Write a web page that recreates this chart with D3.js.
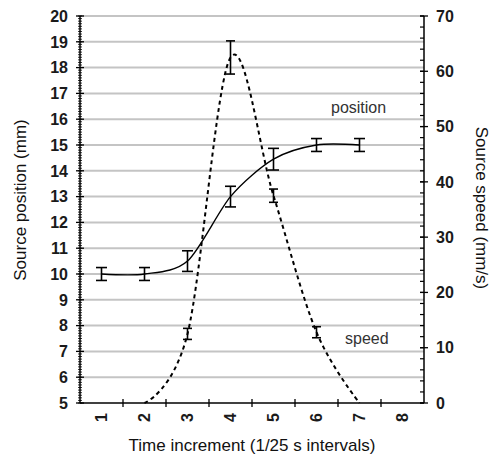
<script src="https://cdn.jsdelivr.net/npm/d3@7"></script>
<style>
  body { margin: 0; background: #fff; }
  text { font-family: "Liberation Sans", Arial, sans-serif; }
</style>
<div id="chart"></div>
<script>
// categories on the x axis
const categories = ["1", "2", "3", "4", "5", "6", "7", "8"];

// source position (mm), left axis
const posTimes = ["1", "2", "3", "4", "5", "6", "7"];
const posValues = [10.0, 10.0, 10.5, 13.0, 14.45, 15.0, 15.0];
const posErrors = [0.25, 0.25, 0.4, 0.4, 0.42, 0.25, 0.25];

// source speed (mm/s), right axis
const speedTimes = ["2", "3", "4", "5", "6", "7"];
const speedValues = [0, 12.5, 62.5, 37.5, 12.8, 0];
const speedErrors = [0, 1.0, 3.0, 1.2, 1.0, 0];

const leftTicks = d3.range(5, 21, 1);
const rightTicks = d3.range(0, 71, 10);

var W = 492, H = 461;
var margin = {top: 16, right: 68, bottom: 58, left: 80};
var x0 = margin.left, x1 = W - margin.right, y0 = H - margin.bottom, y1 = margin.top;

var svg = d3.select("#chart").append("svg")
    .attr("width", W).attr("height", H);

var xScale = d3.scaleBand().domain(categories).range([x0, x1]).padding(0);
var cx = function(c) { return xScale(c) + xScale.bandwidth() / 2; };
var yPos = d3.scaleLinear().domain([5, 20]).range([y0, y1]);
var ySpd = d3.scaleLinear().domain([0, 70]).range([y0, y1]);

// gridlines
svg.append("g").selectAll("line")
    .data(leftTicks.filter(d => d > 5))
    .join("line")
    .attr("x1", x0).attr("x2", x1)
    .attr("y1", d => yPos(d)).attr("y2", d => yPos(d))
    .attr("stroke", "#c4c4c4").attr("stroke-width", 2);

// left axis
var gl = svg.append("g");
gl.append("line").attr("x1", x0).attr("x2", x0).attr("y1", y1).attr("y2", y0)
    .attr("stroke", "#000").attr("stroke-width", 1.5);
gl.selectAll(".minor").data(d3.range(50, 201).map(d => d / 10))
    .join("line").attr("class", "minor")
    .attr("x1", x0 - 2).attr("x2", x0 + 2)
    .attr("y1", d => yPos(d)).attr("y2", d => yPos(d))
    .attr("stroke", "#000").attr("stroke-width", 0.8);
gl.selectAll(".major").data(leftTicks)
    .join("line").attr("class", "major")
    .attr("x1", x0 - 4).attr("x2", x0 + 4)
    .attr("y1", d => yPos(d)).attr("y2", d => yPos(d))
    .attr("stroke", "#000").attr("stroke-width", 1.3);
gl.selectAll("text").data(leftTicks)
    .join("text")
    .attr("x", x0 - 12).attr("y", d => yPos(d)).attr("dy", "0.36em")
    .attr("text-anchor", "end")
    .style("font-size", "16px").style("font-weight", "bold").attr("fill", "#1a1a1a")
    .text(d => d);

// right axis
var gr = svg.append("g");
gr.append("line").attr("x1", x1).attr("x2", x1).attr("y1", y1).attr("y2", y0)
    .attr("stroke", "#000").attr("stroke-width", 1.5);
gr.selectAll(".minor").data(d3.range(0, 71, 2))
    .join("line").attr("class", "minor")
    .attr("x1", x1 - 4).attr("x2", x1)
    .attr("y1", d => ySpd(d)).attr("y2", d => ySpd(d))
    .attr("stroke", "#000").attr("stroke-width", 1.2);
gr.selectAll(".major").data(rightTicks)
    .join("line").attr("class", "major")
    .attr("x1", x1 - 4).attr("x2", x1 + 4)
    .attr("y1", d => ySpd(d)).attr("y2", d => ySpd(d))
    .attr("stroke", "#000").attr("stroke-width", 1.3);
gr.selectAll("text").data(rightTicks)
    .join("text")
    .attr("x", x1 + 12).attr("y", d => ySpd(d)).attr("dy", "0.36em")
    .style("font-size", "16px").style("font-weight", "bold").attr("fill", "#1a1a1a")
    .text(d => d);

// bottom axis
var gb = svg.append("g");
gb.append("line").attr("x1", x0).attr("x2", x1).attr("y1", y0).attr("y2", y0)
    .attr("stroke", "#000").attr("stroke-width", 1.5);
gb.selectAll("line.tick").data(categories.slice(1))
    .join("line").attr("class", "tick")
    .attr("x1", d => xScale(d)).attr("x2", d => xScale(d))
    .attr("y1", y0 - 4).attr("y2", y0 + 4)
    .attr("stroke", "#000").attr("stroke-width", 1.3);
gb.selectAll("text").data(categories)
    .join("text")
    .attr("transform", d => "translate(" + cx(d) + "," + (y0 + 10) + ") rotate(-90)")
    .attr("dy", "0.36em").attr("text-anchor", "end")
    .style("font-size", "16px").style("font-weight", "bold").attr("fill", "#1a1a1a")
    .text(d => d);

// position curve
var posData = posTimes.map((t, i) => ({t: t, v: posValues[i], e: posErrors[i]}));
svg.append("path")
    .datum(posData)
    .attr("d", d3.line().x(d => cx(d.t)).y(d => yPos(d.v)).curve(d3.curveCardinal.tension(0.15)))
    .attr("fill", "none").attr("stroke", "#000").attr("stroke-width", 1.4);

// speed curve
var spdData = speedTimes.map((t, i) => ({t: t, v: speedValues[i], e: speedErrors[i]}));
svg.append("path")
    .datum(spdData)
    .attr("d", d3.line().x(d => cx(d.t)).y(d => ySpd(d.v)).curve(d3.curveCardinal.tension(0)))
    .attr("fill", "none").attr("stroke", "#000").attr("stroke-width", 2)
    .attr("stroke-dasharray", "4,3.5");

// error bars
var errorBars = function(data, yScale, cap) {
    var g = svg.append("g").selectAll("g").data(data.filter(d => d.e > 0)).join("g")
        .attr("stroke", "#000").attr("stroke-width", 1.6);
    g.append("line").attr("x1", d => cx(d.t)).attr("x2", d => cx(d.t))
        .attr("y1", d => yScale(d.v - d.e)).attr("y2", d => yScale(d.v + d.e));
    g.append("line").attr("x1", d => cx(d.t) - cap).attr("x2", d => cx(d.t) + cap)
        .attr("y1", d => yScale(d.v + d.e)).attr("y2", d => yScale(d.v + d.e));
    g.append("line").attr("x1", d => cx(d.t) - cap).attr("x2", d => cx(d.t) + cap)
        .attr("y1", d => yScale(d.v - d.e)).attr("y2", d => yScale(d.v - d.e));
};
errorBars(posData, yPos, 5.5);
errorBars(spdData, ySpd, 4.5);

// series labels
svg.append("text").attr("x", 331).attr("y", 113)
    .style("font-size", "16px").attr("fill", "#333").text("position");
svg.append("text").attr("x", 345).attr("y", 344)
    .style("font-size", "16px").attr("fill", "#333").text("speed");

// axis titles
svg.append("text")
    .attr("transform", "translate(20," + 200 + ") rotate(-90)")
    .attr("text-anchor", "middle").attr("dy", "0.35em")
    .style("font-size", "17px").attr("fill", "#111")
    .text("Source position (mm)");
svg.append("text")
    .attr("transform", "translate(482," + 208 + ") rotate(90)")
    .attr("text-anchor", "middle").attr("dy", "0.35em")
    .style("font-size", "17px").attr("fill", "#111")
    .text("Source speed (mm/s)");
svg.append("text")
    .attr("x", 252).attr("y", 451)
    .attr("text-anchor", "middle")
    .style("font-size", "17px").attr("fill", "#111")
    .text("Time increment (1/25 s intervals)");
</script>
